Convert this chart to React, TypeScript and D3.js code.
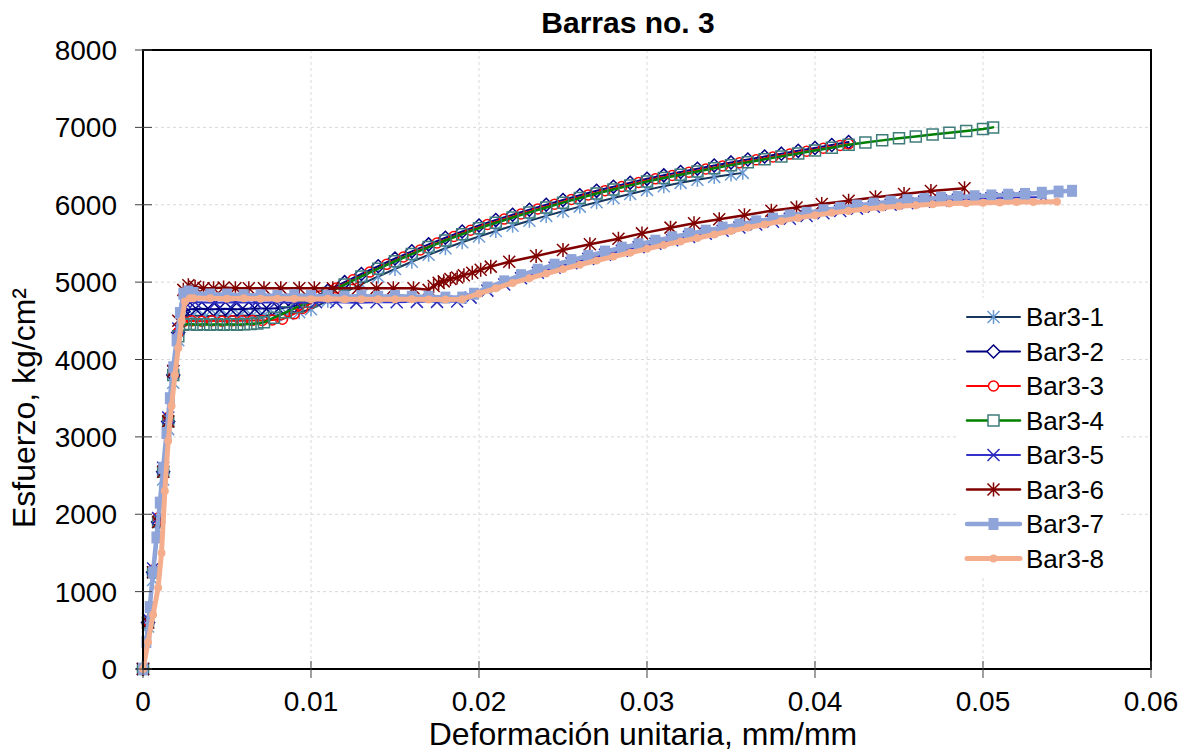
import React from 'react';
import * as d3 from 'd3';

// strain (mm/mm), stress (kg/cm²)
const bar3_1: [number, number][] = [
  [0, 0], [0.0003, 550], [0.0006, 1150], [0.0009, 1800], [0.0012, 2450], [0.0015, 3100], [0.0018, 3700], [0.0021, 4250], [0.0024, 4560],
  [0.003, 4570], [0.0037, 4560], [0.0044, 4570], [0.0051, 4560], [0.0058, 4570], [0.0065, 4565], [0.0072, 4570], [0.0079, 4575], [0.0086, 4590], [0.0093, 4610], [0.01, 4650],
  [0.011, 4760], [0.012, 4868], [0.013, 4973], [0.014, 5073], [0.015, 5170], [0.016, 5263], [0.017, 5353], [0.018, 5438], [0.019, 5515], [0.02, 5590],
  [0.021, 5660], [0.022, 5728], [0.023, 5793], [0.024, 5856], [0.025, 5917], [0.026, 5976], [0.027, 6033], [0.028, 6087], [0.029, 6140], [0.03, 6192],
  [0.031, 6240], [0.032, 6283], [0.033, 6323], [0.034, 6360], [0.035, 6392], [0.0357, 6412],
];
const bar3_2: [number, number][] = [
  [0, 0], [0.0003, 600], [0.0006, 1250], [0.0009, 1900], [0.0012, 2550], [0.0015, 3200], [0.0018, 3800], [0.0021, 4350], [0.0024, 4620],
  [0.0028, 4650], [0.0035, 4655], [0.0042, 4650], [0.0049, 4655], [0.0056, 4650], [0.0063, 4655], [0.007, 4660], [0.0077, 4660], [0.0084, 4670], [0.009, 4690], [0.0097, 4760],
  [0.011, 4890], [0.012, 5000], [0.013, 5105], [0.014, 5205], [0.015, 5305], [0.016, 5398], [0.017, 5488], [0.018, 5573], [0.019, 5655], [0.02, 5732],
  [0.021, 5802], [0.022, 5870], [0.023, 5936], [0.024, 6000], [0.025, 6062], [0.026, 6122], [0.027, 6180], [0.028, 6232], [0.029, 6285], [0.03, 6335],
  [0.031, 6380], [0.032, 6423], [0.033, 6465], [0.034, 6507], [0.035, 6547], [0.036, 6585], [0.037, 6623], [0.038, 6660], [0.039, 6697], [0.04, 6733],
  [0.041, 6772], [0.042, 6810],
];
const bar3_3: [number, number][] = [
  [0, 0], [0.0003, 620], [0.0006, 1280], [0.0009, 1950], [0.0012, 2600], [0.0015, 3250], [0.0018, 3850], [0.0021, 4350], [0.0024, 4490],
  [0.0029, 4500], [0.0035, 4495], [0.0041, 4500], [0.0047, 4495], [0.0053, 4500], [0.0059, 4500], [0.0065, 4505], [0.0071, 4505], [0.0077, 4510], [0.0083, 4520],
  [0.009, 4590], [0.0095, 4660], [0.01, 4730], [0.0105, 4820], [0.0115, 4925], [0.0125, 5030], [0.0135, 5130], [0.0145, 5230], [0.0155, 5325],
  [0.0165, 5415], [0.0175, 5505], [0.0185, 5590], [0.0195, 5670], [0.0205, 5745], [0.0215, 5815], [0.0225, 5880], [0.0235, 5945], [0.0245, 6008],
  [0.0255, 6068], [0.0265, 6127], [0.0275, 6182], [0.0285, 6235], [0.0295, 6287], [0.0305, 6335], [0.0315, 6378], [0.0325, 6420], [0.0335, 6462],
  [0.0345, 6502], [0.0355, 6542], [0.0365, 6580], [0.0375, 6618], [0.0385, 6655], [0.0395, 6692], [0.0405, 6730], [0.0415, 6765], [0.042, 6785],
];
const bar3_4: [number, number][] = [
  [0, 0], [0.0003, 600], [0.0006, 1250], [0.0009, 1900], [0.0012, 2550], [0.0015, 3200], [0.0018, 3800], [0.0021, 4300], [0.0024, 4450],
  [0.0028, 4460], [0.0032, 4450], [0.0036, 4455], [0.004, 4450], [0.0044, 4455], [0.0048, 4450], [0.0052, 4455], [0.0056, 4450], [0.006, 4455], [0.0064, 4460],
  [0.0068, 4465], [0.0072, 4480], [0.0078, 4540], [0.0085, 4610], [0.0092, 4680], [0.01, 4750],
  [0.011, 4860], [0.012, 4968], [0.013, 5073], [0.014, 5173], [0.015, 5270], [0.016, 5363], [0.017, 5453], [0.018, 5538], [0.019, 5620], [0.02, 5697],
  [0.021, 5767], [0.022, 5835], [0.023, 5901], [0.024, 5965], [0.025, 6027], [0.026, 6087], [0.027, 6145], [0.028, 6197], [0.029, 6250], [0.03, 6300],
  [0.031, 6345], [0.032, 6388], [0.033, 6430], [0.034, 6472], [0.035, 6512], [0.036, 6550], [0.037, 6588], [0.038, 6625], [0.039, 6662], [0.04, 6700],
  [0.041, 6738], [0.042, 6775], [0.043, 6805], [0.044, 6832], [0.045, 6858], [0.046, 6883], [0.047, 6907], [0.048, 6930], [0.049, 6953], [0.05, 6978],
  [0.0506, 7000],
];
const bar3_5: [number, number][] = [
  [0, 0], [0.0003, 650], [0.0006, 1300], [0.0009, 1950], [0.0012, 2600], [0.0015, 3250], [0.0018, 3850], [0.0021, 4400], [0.0025, 4740],
  [0.0031, 4740], [0.0043, 4735], [0.0055, 4740], [0.0067, 4735], [0.0079, 4740], [0.0091, 4735], [0.0103, 4740], [0.0115, 4740], [0.0127, 4735],
  [0.0139, 4740], [0.0151, 4740], [0.0163, 4745], [0.0175, 4745], [0.0187, 4750],
  [0.0195, 4800], [0.0205, 4890], [0.0215, 4970], [0.0225, 5050], [0.0235, 5120], [0.0245, 5185], [0.0255, 5245], [0.0265, 5300], [0.0275, 5355],
  [0.0285, 5405], [0.0295, 5450], [0.0305, 5495], [0.0315, 5540], [0.0325, 5585], [0.0335, 5625], [0.0345, 5665], [0.0355, 5705], [0.0365, 5745],
  [0.0375, 5780], [0.0385, 5820], [0.0395, 5855], [0.0405, 5890], [0.0415, 5920], [0.0425, 5950], [0.0435, 5975], [0.0445, 6000], [0.0455, 6020],
  [0.0465, 6040], [0.0475, 6055], [0.0485, 6065], [0.0495, 6075], [0.0505, 6085], [0.0515, 6090], [0.0525, 6095], [0.0536, 6100],
];
const bar3_6: [number, number][] = [
  [0, 0], [0.0003, 600], [0.0006, 1250], [0.0009, 1900], [0.0012, 2550], [0.0015, 3200], [0.0018, 3850], [0.0021, 4500], [0.0024, 4900],
  [0.0027, 4960], [0.0031, 4940], [0.0036, 4920], [0.0042, 4920], [0.0048, 4930], [0.0055, 4920], [0.0063, 4920], [0.0072, 4920], [0.0082, 4920],
  [0.0093, 4920], [0.0102, 4920], [0.0113, 4920], [0.0128, 4920], [0.0139, 4920], [0.0149, 4920], [0.0161, 4920], [0.017, 4900],
  [0.0173, 4950], [0.0176, 4990], [0.0179, 5010], [0.0183, 5040], [0.0187, 5060], [0.0191, 5090], [0.0196, 5120], [0.0201, 5160], [0.0207, 5200],
  [0.0218, 5264], [0.0234, 5338], [0.025, 5416], [0.0266, 5489], [0.0283, 5560], [0.0297, 5630], [0.0314, 5704], [0.0328, 5761], [0.0343, 5813],
  [0.0358, 5865], [0.0374, 5922], [0.0389, 5965], [0.0404, 6009], [0.042, 6052], [0.0436, 6096], [0.0453, 6139], [0.0469, 6178], [0.0489, 6213],
];
const bar3_7: [number, number][] = [
  [0, 0], [0.0002, 350], [0.0004, 800], [0.0006, 1250], [0.0008, 1700], [0.001, 2150], [0.0012, 2600], [0.0014, 3050], [0.0016, 3500], [0.0018, 3900],
  [0.002, 4250], [0.0022, 4600], [0.0024, 4850], [0.0027, 4880],
  [0.003, 4860], [0.004, 4840], [0.005, 4840], [0.006, 4830], [0.007, 4830], [0.008, 4820], [0.009, 4830], [0.01, 4820], [0.011, 4820], [0.012, 4810],
  [0.013, 4820], [0.014, 4810], [0.015, 4820], [0.016, 4810], [0.017, 4810], [0.018, 4800], [0.019, 4800],
  [0.0197, 4850], [0.0205, 4930], [0.0215, 5010], [0.0225, 5090], [0.0235, 5160], [0.0245, 5225], [0.0255, 5285], [0.0265, 5340], [0.0275, 5395],
  [0.0285, 5445], [0.0295, 5490], [0.0305, 5535], [0.0315, 5580], [0.0325, 5625], [0.0335, 5665], [0.0345, 5705], [0.0355, 5745], [0.0365, 5785],
  [0.0375, 5820], [0.0385, 5860], [0.0395, 5895], [0.0405, 5930], [0.0415, 5960], [0.0425, 5990], [0.0435, 6015], [0.0445, 6040], [0.0455, 6060],
  [0.0465, 6075], [0.0475, 6090], [0.0485, 6100], [0.0495, 6110], [0.0505, 6120], [0.0515, 6130], [0.0525, 6140], [0.0535, 6155], [0.0545, 6170],
  [0.0553, 6180],
];
const bar3_8: [number, number][] = [
  [0, 0], [0.0003, 350], [0.0006, 700], [0.0009, 1050], [0.0011, 1500], [0.0013, 2300], [0.0015, 2950], [0.0017, 3400], [0.0019, 3800], [0.0021, 4150],
  [0.0023, 4500], [0.0025, 4750], [0.0028, 4790],
  [0.003, 4790], [0.004, 4790], [0.005, 4785], [0.006, 4790], [0.007, 4785], [0.008, 4785], [0.009, 4785], [0.01, 4780], [0.011, 4785], [0.012, 4780],
  [0.013, 4780], [0.014, 4780], [0.015, 4780], [0.016, 4780], [0.017, 4775], [0.018, 4775], [0.019, 4780],
  [0.02, 4850], [0.021, 4920], [0.022, 4990], [0.023, 5050], [0.024, 5110], [0.025, 5170], [0.026, 5225], [0.027, 5280], [0.028, 5330], [0.029, 5380],
  [0.03, 5430], [0.031, 5480], [0.032, 5525], [0.033, 5570], [0.034, 5615], [0.035, 5660], [0.036, 5705], [0.037, 5745], [0.038, 5790], [0.039, 5830],
  [0.04, 5865], [0.041, 5895], [0.042, 5920], [0.043, 5945], [0.044, 5965], [0.045, 5980], [0.046, 5995], [0.047, 6005], [0.048, 6015], [0.049, 6020],
  [0.05, 6025], [0.051, 6030], [0.052, 6035], [0.053, 6035], [0.0544, 6040],
];

const seriesNames = ['Bar3-1', 'Bar3-2', 'Bar3-3', 'Bar3-4', 'Bar3-5', 'Bar3-6', 'Bar3-7', 'Bar3-8'];
const seriesData = [bar3_1, bar3_2, bar3_3, bar3_4, bar3_5, bar3_6, bar3_7, bar3_8];
const xTicks = [0, 0.01, 0.02, 0.03, 0.04, 0.05, 0.06];
const yTicks = [0, 1000, 2000, 3000, 4000, 5000, 6000, 7000, 8000];

// look of each series (line colour/width, marker)
const styles = [
  { line: '#17375E', lw: 2, marker: 'asterisk', mc: '#6B9BD2', filled: false },
  { line: '#000080', lw: 2, marker: 'diamond', mc: '#000080', filled: false },
  { line: '#FF0000', lw: 2, marker: 'circle', mc: '#FF0000', filled: false },
  { line: '#008000', lw: 2.5, marker: 'square', mc: '#3E7C7A', filled: false },
  { line: '#3333CC', lw: 2, marker: 'x', mc: '#2A2AB8', filled: false },
  { line: '#800000', lw: 2.5, marker: 'asterisk', mc: '#800000', filled: false },
  { line: '#8FA4D9', lw: 4.5, marker: 'bigsquare', mc: '#8FA4D9', filled: true },
  { line: '#F4AE8D', lw: 5, marker: 'dot', mc: '#F4AE8D', filled: true },
];

function markerPath(kind: string): string {
  switch (kind) {
    case 'asterisk': {
      const r = 6;
      return `M${-r},${-r}L${r},${r}M${-r},${r}L${r},${-r}M0,${-r - 1}V${r + 1}`;
    }
    case 'diamond':
      return 'M0,-6.5L6.5,0L0,6.5L-6.5,0Z';
    case 'circle':
      return 'M5,0A5,5 0 1,1 -5,0A5,5 0 1,1 5,0Z';
    case 'square':
      return 'M-5.5,-5.5H5.5V5.5H-5.5Z';
    case 'x':
      return 'M-6,-6L6,6M-6,6L6,-6';
    case 'bigsquare':
      return 'M-5,-6H5V6H-5Z';
    default:
      return 'M4,0A4,4 0 1,1 -4,0A4,4 0 1,1 4,0Z';
  }
}

const font = 'Arial, "Liberation Sans", sans-serif';

export default function App() {
  const width = 1193;
  const height = 753;
  const left = 143, right = 1151, top = 50, bottom = 669;

  const x = d3.scaleLinear().domain([0, 0.06]).range([left, right]);
  const y = d3.scaleLinear().domain([0, 8000]).range([bottom, top]);
  const line = d3.line<[number, number]>().x(d => x(d[0])).y(d => y(d[1]));

  const legendY0 = 317;
  const legendStep = 34.5;

  return (
    <svg width={width} height={height} style={{ position: 'absolute', left: 0, top: 0, background: '#fff' }} fontFamily={font}>
      <rect x={0} y={0} width={width} height={height} fill="#fff" />

      {/* grid */}
      {xTicks.slice(1, -1).map(t => (
        <line key={'gx' + t} x1={x(t)} x2={x(t)} y1={top} y2={bottom} stroke="#d9d9d9" strokeDasharray="3,3" />
      ))}
      {yTicks.slice(1, -1).map(t => (
        <line key={'gy' + t} x1={left} x2={right} y1={y(t)} y2={y(t)} stroke="#d9d9d9" strokeDasharray="3,3" />
      ))}

      {/* series */}
      {seriesData.map((data, i) => {
        const s = styles[i];
        return (
          <g key={seriesNames[i]}>
            <path d={line(data) || ''} fill="none" stroke={s.line} strokeWidth={s.lw} strokeLinejoin="round" strokeLinecap="round" />
            {data.map((d, j) => (
              <path
                key={j}
                d={markerPath(s.marker)}
                transform={`translate(${x(d[0])},${y(d[1])})`}
                fill={s.filled ? s.mc : 'none'}
                stroke={s.mc}
                strokeWidth={s.filled ? 0 : 1.5}
              />
            ))}
          </g>
        );
      })}

      {/* frame */}
      <rect x={left} y={top} width={right - left} height={bottom - top} fill="none" stroke="#000" strokeWidth={2} />

      {/* ticks */}
      {xTicks.map(t => (
        <g key={'xt' + t}>
          <line x1={x(t)} x2={x(t)} y1={bottom - 8} y2={bottom + 9} stroke="#404040" strokeWidth={1} />
          <text x={x(t)} y={711} textAnchor="middle" fontSize={28} fill="#000">{t === 0 ? '0' : d3.format('.2f')(t)}</text>
        </g>
      ))}
      {yTicks.map(t => (
        <g key={'yt' + t}>
          <line x1={left - 8} x2={left + 9} y1={y(t)} y2={y(t)} stroke="#404040" strokeWidth={1} />
          <text x={117} y={y(t)} dy="0.36em" textAnchor="end" fontSize={28} fill="#000">{t}</text>
        </g>
      ))}

      {/* titles */}
      <text x={628} y={33} textAnchor="middle" fontSize={30} fontWeight="bold">Barras no. 3</text>
      <text x={643} y={745} textAnchor="middle" fontSize={32}>Deformación unitaria, mm/mm</text>
      <text transform="translate(35,408) rotate(-90)" textAnchor="middle" fontSize={32}>Esfuerzo, kg/cm²</text>

      {/* legend */}
      <rect x={958} y={298} width={160} height={280} fill="#fff" />
      {seriesNames.map((name, i) => {
        const s = styles[i];
        const ly = legendY0 + i * legendStep;
        return (
          <g key={'lg' + name}>
            <line x1={967} x2={1020} y1={ly} y2={ly} stroke={s.line} strokeWidth={s.lw} strokeLinecap="round" />
            <path
              d={markerPath(s.marker)}
              transform={`translate(993.5,${ly})`}
              fill={s.filled ? s.mc : '#fff'}
              stroke={s.mc}
              strokeWidth={s.filled ? 0 : 1.5}
            />
            <text x={1026} y={ly} dy="0.36em" fontSize={26} fill="#000">{name}</text>
          </g>
        );
      })}
    </svg>
  );
}
